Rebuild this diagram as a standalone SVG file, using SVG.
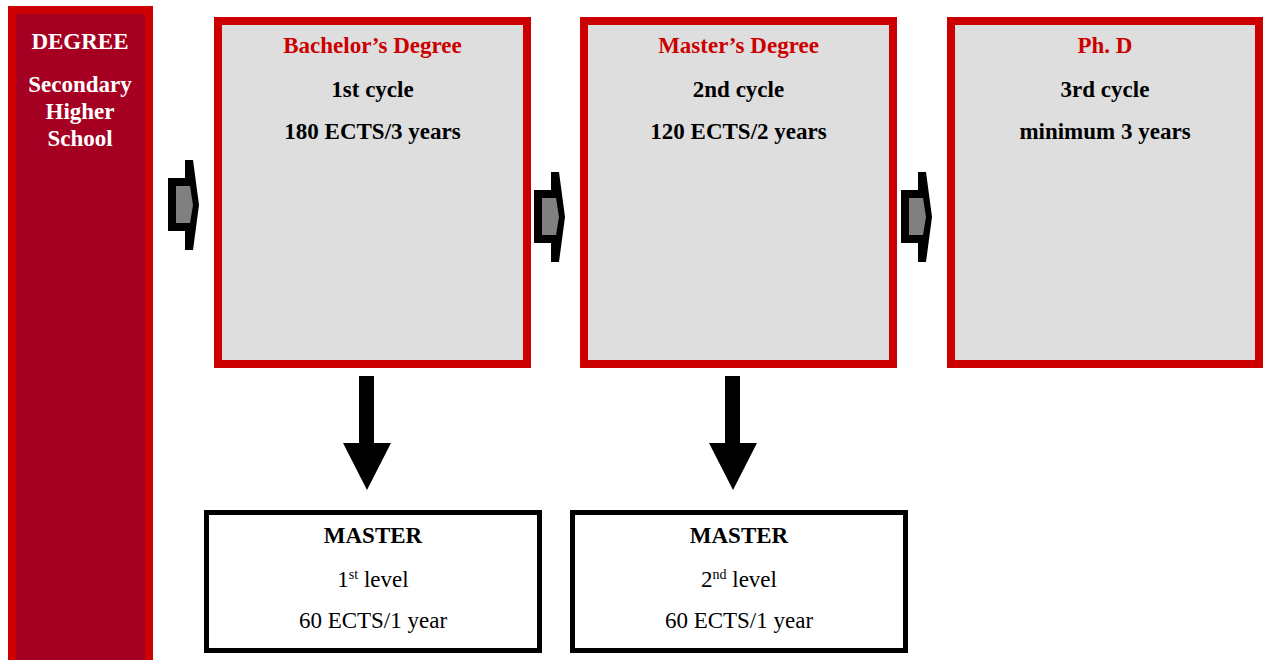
<svg xmlns="http://www.w3.org/2000/svg" width="1263" height="660" viewBox="0 0 1263 660">
  <style>
    text { font-family: "Liberation Serif", "Times New Roman", serif; font-size: 23px; text-anchor: middle; }
    .b { font-weight: bold; }
    .w { fill: #FFFFFF; }
    .r { fill: #CC0000; }
    .k { fill: #000000; }
    .cycle { fill: #DEDEDE; stroke: #CC0000; stroke-width: 8; }
    .master { fill: #FFFFFF; stroke: #000000; stroke-width: 5; }
    .sup { font-size: 14px; }
  </style>
  <defs>
    <g id="chev">
      <polygon points="0,18 17,18 17,0 25,0 31,45 25,90 17,90 17,71 0,71" fill="#000000"/>
      <polygon points="8,26 22,26 25,45 22,63 8,63" fill="#808080"/>
    </g>
    <polygon id="down" points="359,376 374,376 374,443 391,443 367,490 343,443 359,443" fill="#000000"/>
  </defs>

  <rect width="1263" height="660" fill="#FFFFFF"/>

  <g id="degree">
    <rect x="12" y="10" width="137" height="660" fill="#A50021" stroke="#CC0000" stroke-width="8"/>
    <text class="b w" x="80" y="49">DEGREE</text>
    <text class="b w" x="80" y="92">Secondary</text>
    <text class="b w" x="80" y="119">Higher</text>
    <text class="b w" x="80" y="146">School</text>
  </g>

  <g id="bachelor">
    <rect class="cycle" x="218" y="21" width="309" height="343"/>
    <text class="b r" x="372.5" y="53">Bachelor’s Degree</text>
    <text class="b k" x="372.5" y="97">1st cycle</text>
    <text class="b k" x="372.5" y="139">180 ECTS/3 years</text>
  </g>

  <g id="masters">
    <rect class="cycle" x="584" y="21" width="309" height="343"/>
    <text class="b r" x="738.5" y="53">Master’s Degree</text>
    <text class="b k" x="738.5" y="97">2nd cycle</text>
    <text class="b k" x="738.5" y="139">120 ECTS/2 years</text>
  </g>

  <g id="phd">
    <rect class="cycle" x="951" y="21" width="308" height="343"/>
    <text class="b r" x="1105" y="53">Ph. D</text>
    <text class="b k" x="1105" y="97">3rd cycle</text>
    <text class="b k" x="1105" y="139">minimum 3 years</text>
  </g>

  <g id="master1">
    <rect class="master" x="206.5" y="512.5" width="333" height="138"/>
    <text class="b k" x="373" y="543">MASTER</text>
    <text class="k" x="373" y="587">1<tspan class="sup" dy="-8">st</tspan><tspan dy="8"> level</tspan></text>
    <text class="k" x="373" y="628">60 ECTS/1 year</text>
  </g>

  <g id="master2">
    <rect class="master" x="572.5" y="512.5" width="333" height="138"/>
    <text class="b k" x="739" y="543">MASTER</text>
    <text class="k" x="739" y="587">2<tspan class="sup" dy="-8">nd</tspan><tspan dy="8"> level</tspan></text>
    <text class="k" x="739" y="628">60 ECTS/1 year</text>
  </g>

  <g id="connectors">
    <use href="#chev" transform="translate(168,160)"/>
    <use href="#chev" transform="translate(534,172)"/>
    <use href="#chev" transform="translate(901,172)"/>
    <use href="#down"/>
    <use href="#down" transform="translate(366,0)"/>
  </g>
</svg>
